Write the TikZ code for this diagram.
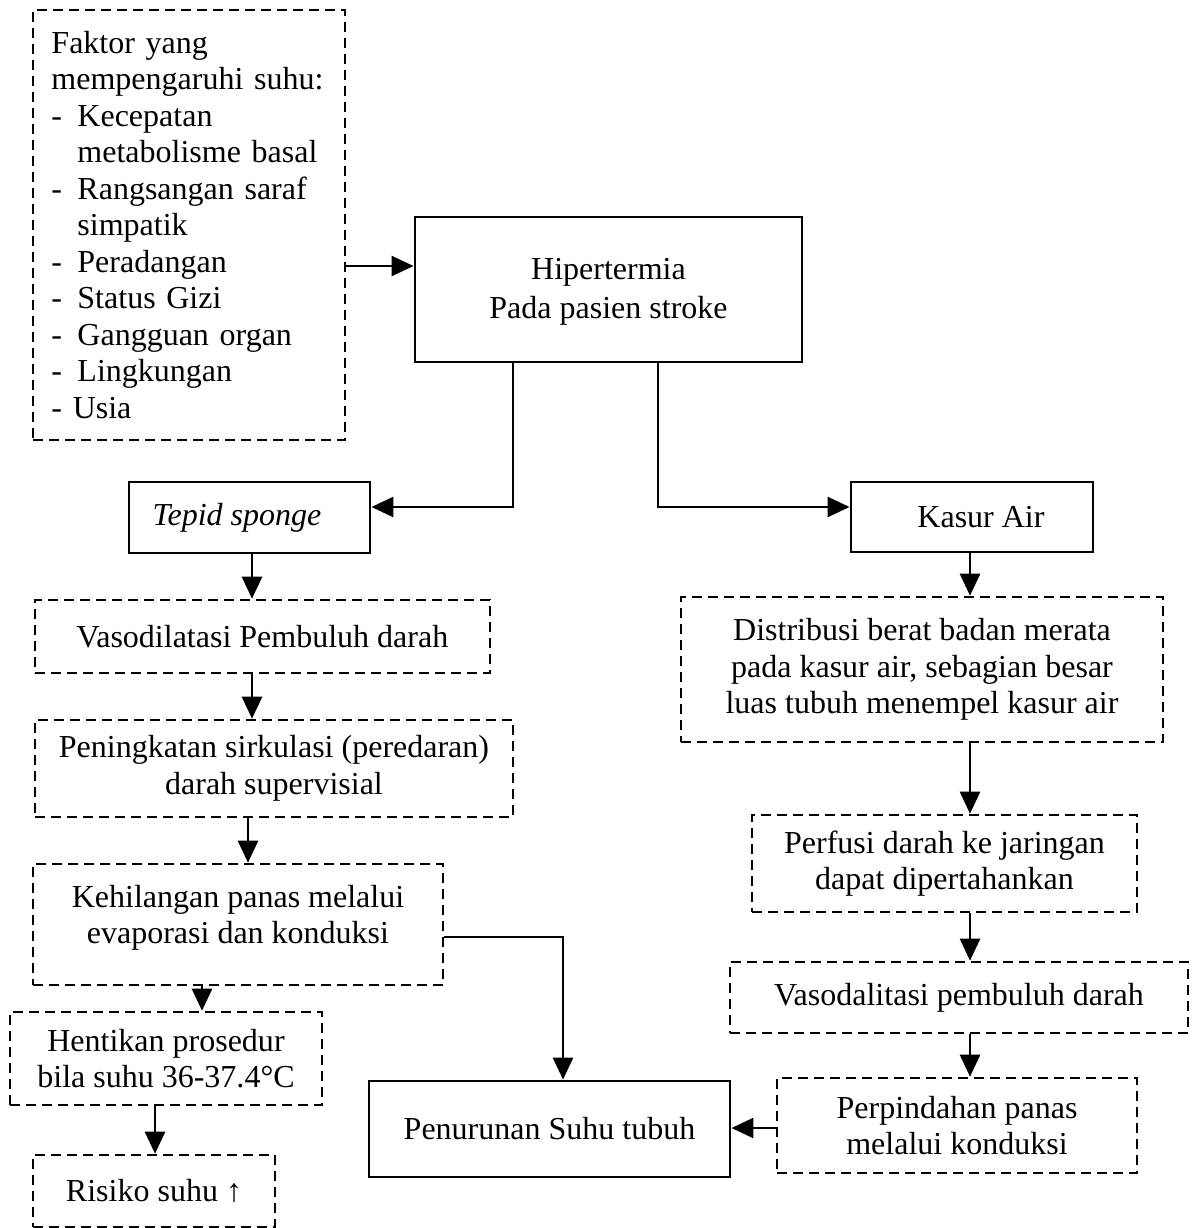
\documentclass[tikz,border=0pt]{standalone}
\usepackage{fontspec}
\setmainfont{Liberation Serif}
\usetikzlibrary{arrows.meta}
\newcommand\mainsz{\fontsize{22.76pt}{25.96pt}\selectfont}
\newcommand\mk[1]{\makebox[0.65cm][l]{#1}}
\tikzset{
  base/.style={draw, line width=2pt, align=center, inner sep=0pt, font=\mainsz},
  solidbox/.style={base},
  dashbox/.style={base, line width=1.8pt, dash pattern=on 0.25cm off 0.15cm},
  arr/.style={line width=1.8pt, -{Triangle[length=0.55cm,width=0.5cm]}},
}
\begin{document}
\begin{tikzpicture}[x=0.025cm, y=-0.025cm]
\path[use as bounding box] (0,0) rectangle (1192,1228);

% boxes
\node[dashbox, align=left, text width=6.875cm, minimum width=7.8cm, minimum height=10.75cm] (faktor) at (189,225)
 {Faktor yang\\
  mempengaruhi suhu:\\
  \mk{-}Kecepatan\\
  \hspace*{0.65cm}metabolisme basal\\
  \mk{-}Rangsangan saraf\\
  \hspace*{0.65cm}simpatik\\
  \mk{-}Peradangan\\
  \mk{-}Status Gizi\\
  \mk{-}Gangguan organ\\
  \mk{-}Lingkungan\\
  - Usia};

\node[solidbox, minimum width=9.675cm, minimum height=3.625cm, text depth=0.05cm] (hiper) at (608.5,289.5)
 {Hipertermia\\[2pt]Pada pasien stroke};

\node[solidbox, minimum width=6.025cm, minimum height=1.775cm] (tepid) at (249.5,517.5)
 {\textit{Tepid sponge}\hspace*{0.625cm}};

\node[solidbox, minimum width=6.05cm, minimum height=1.75cm] (kasur) at (972,517)
 {\hspace*{0.45cm}Kasur Air};

\node[dashbox, minimum width=11.375cm, minimum height=1.825cm] (vasodil) at (262.5,636.5)
 {Vasodilatasi Pembuluh darah};

\node[dashbox, minimum width=11.95cm, minimum height=2.425cm] (pening) at (274,768.5)
 {Peningkatan sirkulasi (peredaran)\\darah supervisial};

\node[dashbox, minimum width=10.25cm, minimum height=3.025cm, text depth=0.5cm] (kehil) at (238,924.5)
 {Kehilangan panas melalui\\evaporasi dan konduksi};

\node[dashbox, minimum width=7.8cm, minimum height=2.325cm] (henti) at (166,1058.5)
 {Hentikan prosedur\\bila suhu 36-37.4°C};

\node[dashbox, minimum width=6.05cm, minimum height=1.8cm] (risiko) at (154,1191)
 {Risiko suhu ↑};

\node[solidbox, minimum width=9.025cm, minimum height=2.4cm] (penur) at (549.5,1129)
 {Penurunan Suhu tubuh};

\node[dashbox, minimum width=12.05cm, minimum height=3.625cm] (distri) at (922,669.5)
 {Distribusi berat badan merata\\pada kasur air, sebagian besar\\luas tubuh menempel kasur air};

\node[dashbox, minimum width=9.625cm, minimum height=2.425cm] (perfu) at (944.5,863.5)
 {Perfusi darah ke jaringan\\dapat dipertahankan};

\node[dashbox, minimum width=11.45cm, minimum height=1.775cm] (vasodal) at (959,997.5)
 {Vasodalitasi pembuluh darah};

\node[dashbox, minimum width=9.0cm, minimum height=2.375cm] (perpin) at (957,1125.5)
 {Perpindahan panas\\melalui konduksi};

% helper coordinates
\coordinate (r266) at (0,266);
\coordinate (r1128) at (0,1128);
\coordinate (j1) at (513,507);
\coordinate (j2) at (658,507);
\coordinate (j3) at (563,937);
\coordinate (k252) at (252,0);
\coordinate (k248) at (248,0);
\coordinate (k202) at (202,0);
\coordinate (k155) at (155,0);
\coordinate (k970) at (970,0);

% connectors
\draw[arr] (faktor.east |- r266) -- (hiper.west |- r266);
\draw[arr] (hiper.south -| j1) -- (j1) -- (tepid.east |- j1);
\draw[arr] (hiper.south -| j2) -- (j2) -- (kasur.west |- j2);
\draw[arr] (tepid.south -| k252) -- (vasodil.north -| k252);
\draw[arr] (vasodil.south -| k252) -- (pening.north -| k252);
\draw[arr] (pening.south -| k248) -- (kehil.north -| k248);
\draw[arr] (kehil.south -| k202) -- (henti.north -| k202);
\draw[arr] (henti.south -| k155) -- (risiko.north -| k155);
\draw[arr] (kehil.east |- j3) -- (j3) -- (penur.north -| j3);
\draw[arr] (kasur.south -| k970) -- (distri.north -| k970);
\draw[arr] (distri.south -| k970) -- (perfu.north -| k970);
\draw[arr] (perfu.south -| k970) -- (vasodal.north -| k970);
\draw[arr] (vasodal.south -| k970) -- (perpin.north -| k970);
\draw[arr] (perpin.west |- r1128) -- (penur.east |- r1128);
\end{tikzpicture}
\end{document}
